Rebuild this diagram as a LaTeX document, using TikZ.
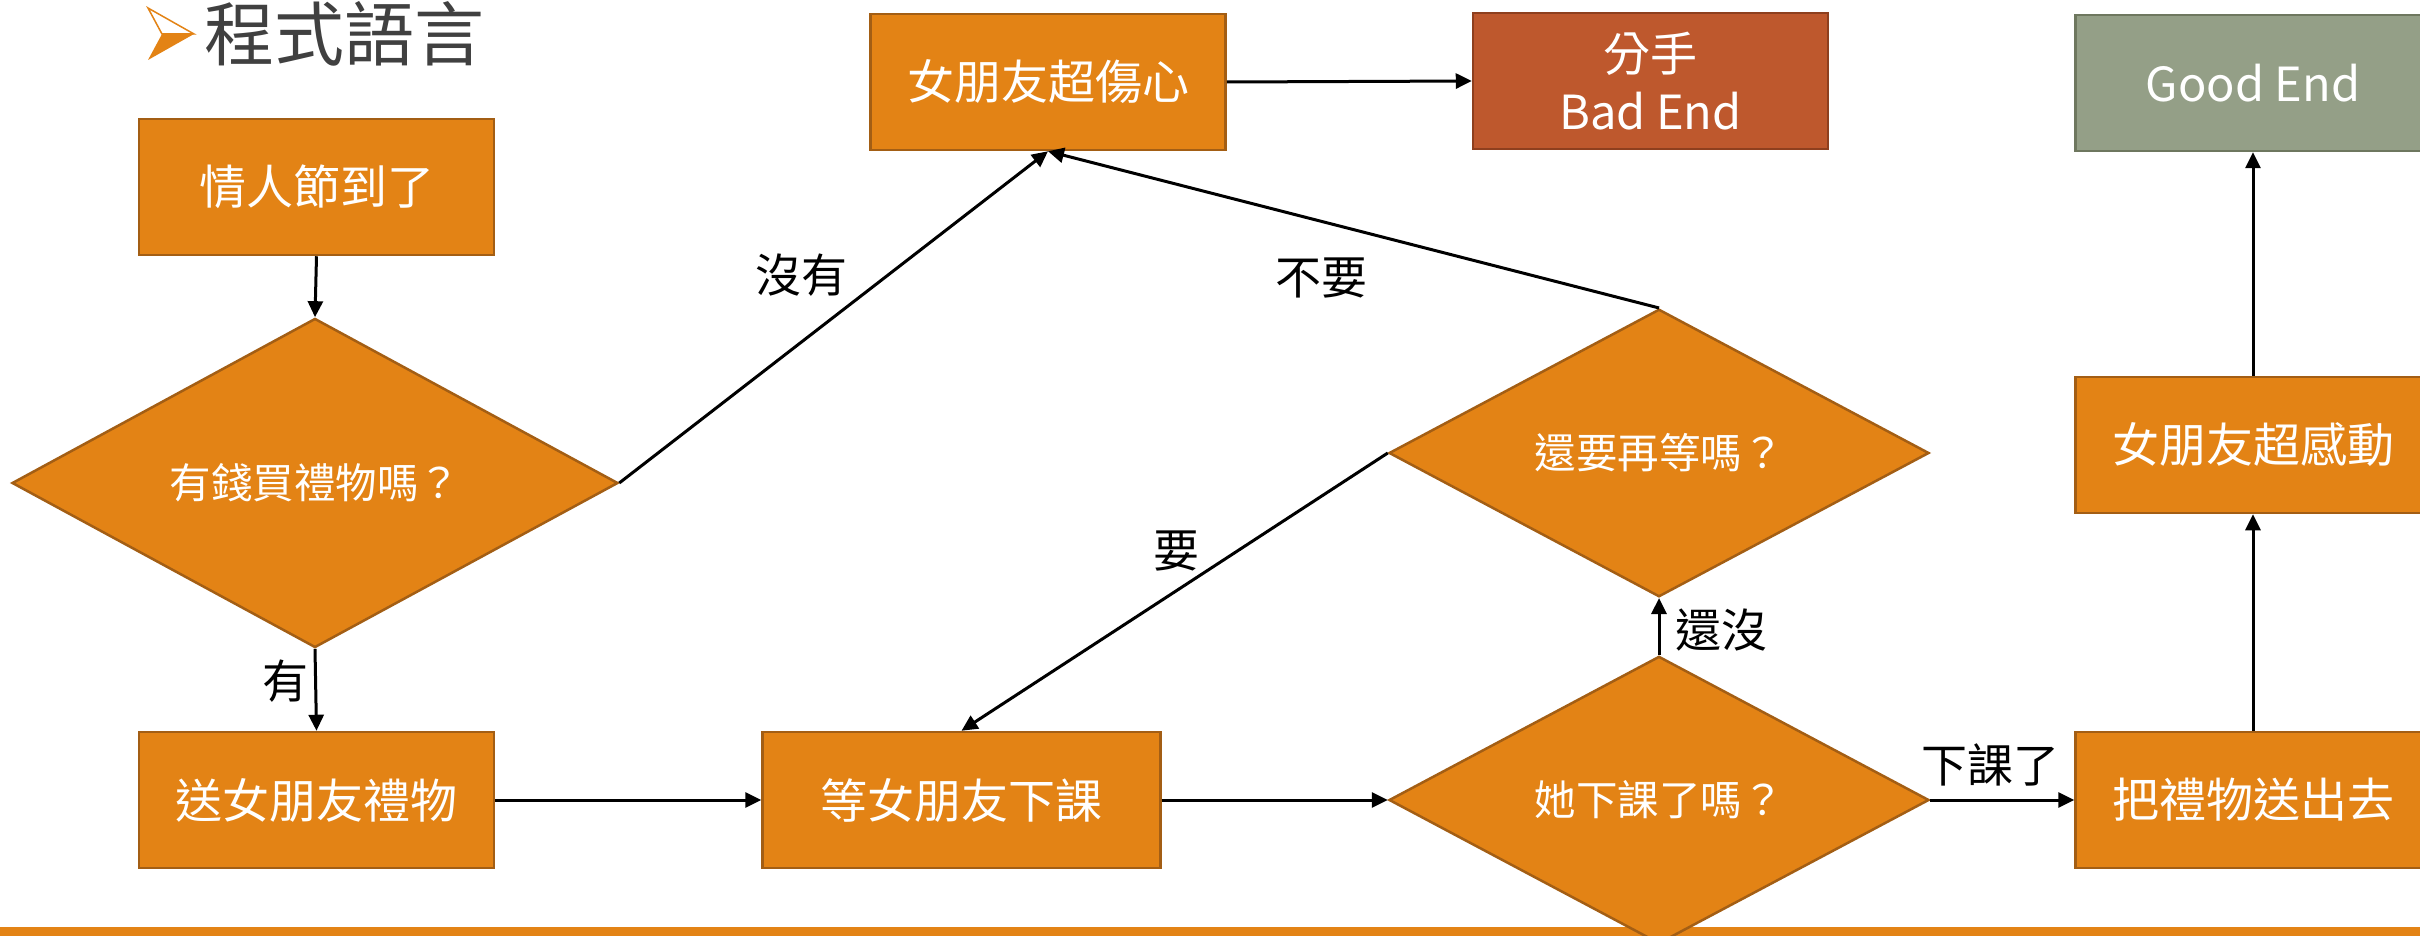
\documentclass[tikz,border=0pt]{standalone}
\usepackage{fontspec}
\newfontfamily\cjk{Noto Sans CJK TC}
\usetikzlibrary{shapes.geometric,arrows.meta}
\definecolor{orF}{HTML}{E38315}
\definecolor{orD}{HTML}{A35E14}
\definecolor{badF}{HTML}{BE582D}
\definecolor{badD}{HTML}{8E3F1E}
\definecolor{goodF}{HTML}{949F87}
\definecolor{goodD}{HTML}{6E775F}
\definecolor{titleGray}{HTML}{404040}
\begin{document}
\begin{tikzpicture}[x=1pt,y=-1pt,
  box/.style={rectangle, fill=orF, draw=orD, line width=2.5pt, minimum width=355pt, minimum height=136pt, inner sep=0pt, text=white, font=\cjk\fontsize{47}{58}\selectfont, align=center},
  dia/.style={diamond, fill=orF, draw=orD, line width=2.5pt, inner sep=0pt, text=white, font=\cjk\fontsize{41.5}{50}\selectfont},
  conn/.style={line width=3pt, -{Triangle[width=15pt,length=16pt]}},
  lab/.style={font=\cjk\fontsize{46}{50}\selectfont, text=black, inner sep=0pt}
]
\useasboundingbox (0,0) rectangle (2420,936);
\clip (0,0) rectangle (2420,936);
\fill[white] (0,0) rectangle (2420,936);
% bottom bar
\fill[orF] (0,927) rectangle (2420,936);
% title
\fill[orF] (148,60) -- (162,34) -- (194,34) -- cycle;
\draw[orF, line width=1.5pt] (148,8) -- (194,34) -- (162,34) -- cycle;
\node[anchor=base west, inner sep=0pt, text=titleGray, font=\cjk\fontsize{70}{80}\selectfont] (title) at (204,61) {程式語言};
% nodes
\node[box] (start) at (316.5,187) {情人節到了};
\node[dia, minimum width=606pt, minimum height=304pt] (q1) at (315,483) {有錢買禮物嗎？};
\node[box] (gift1) at (316.5,800) {送女朋友禮物};
\node[box, minimum width=398pt] (wait) at (961.5,800) {等女朋友下課};
\node[dia, minimum width=540pt, minimum height=272pt] (q2) at (1659,800) {她下課了嗎？};
\node[dia, minimum width=540pt, minimum height=270pt] (q3) at (1659,453) {還要再等嗎？};
\node[box] (sad) at (1048,82) {女朋友超傷心};
\node[box, fill=badF, draw=badD] (bad) at (1650.5,81) {分手\\Bad End};
\node[box] (give) at (2253,800) {把禮物送出去};
\node[box] (moved) at (2253,445) {女朋友超感動};
\node[box, fill=goodF, draw=goodD] (good) at (2253,83) {Good End};
% connectors
\draw[conn] (start.south) -- (q1.north);
\draw[conn] (q1.south) -- (gift1.north);
\draw[conn] (q1.east) -- (sad.south);
\draw[conn] (sad.east) -- (bad.west);
\draw[conn] (gift1.east) -- (wait.west);
\draw[conn] (wait.east) -- (q2.west);
\draw[conn] (q2.north) -- (q3.south);
\draw[conn] (q3.west) -- (wait.north);
\draw[conn] (q3.north) -- (sad.south);
\draw[conn] (q2.east) -- (give.west);
\draw[conn] (give.north) -- (moved.south);
\draw[conn] (moved.north) -- (good.south);
% labels
\node[lab] (lyes) at (285,681) {有};
\node[lab] (lno) at (801,275) {沒有};
\node[lab] (ldont) at (1321,278) {不要};
\node[lab] (lwant) at (1176,551) {要};
\node[lab] (lnotyet) at (1721,630) {還沒};
\node[lab] (ldone) at (1990,765) {下課了};
\end{tikzpicture}
\end{document}
